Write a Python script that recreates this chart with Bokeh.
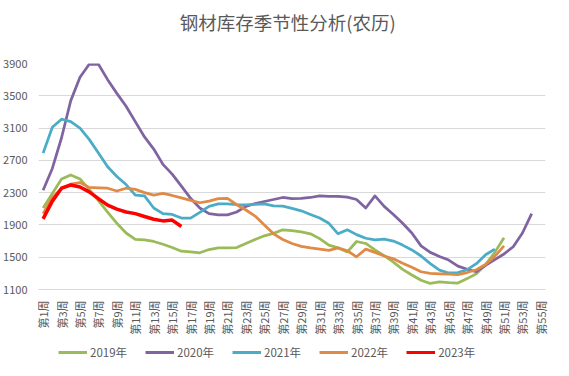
import math
from bokeh.plotting import figure
from bokeh.layouts import column
from bokeh.models import Range1d, FixedTicker, Legend, LegendItem, Label
from bokeh.embed import file_html
from bokeh.resources import INLINE

title_text = "钢材库存季节性分析(农历)"
week_labels = ["第%d周" % i for i in range(1, 56)]
y_ticks = [1100, 1500, 1900, 2300, 2700, 3100, 3500, 3900]

s2019 = [2110, 2290, 2470, 2520, 2470, 2340, 2200, 2060, 1920, 1800,
         1720, 1715, 1695, 1660, 1620, 1575, 1565, 1555, 1595, 1615,
         1615, 1620, 1670, 1720, 1765, 1795, 1840, 1830, 1815, 1790,
         1730, 1650, 1615, 1565, 1695, 1670, 1590, 1520, 1440, 1350,
         1280, 1215, 1175, 1195, 1185, 1180, 1235, 1295, 1410, 1560,
         1740]
s2020 = [2330, 2600, 2980, 3440, 3730, 3890, 3890, 3700, 3530, 3370,
         3180, 2990, 2840, 2650, 2530, 2380, 2230, 2110, 2040, 2025,
         2025, 2060, 2130, 2165, 2190, 2215, 2240, 2225, 2230, 2240,
         2260, 2255, 2255, 2245, 2215, 2110, 2260, 2130, 2030, 1920,
         1800, 1640, 1560, 1510, 1465, 1390, 1350, 1320, 1400, 1470,
         1540, 1630, 1800, 2040]
s2021 = [2790, 3110, 3210, 3180, 3100, 2960, 2790, 2620, 2500, 2400,
         2270, 2260, 2110, 2040, 2030, 1985, 1985, 2055, 2130, 2160,
         2160, 2150, 2150, 2155, 2160, 2135, 2133, 2105, 2075, 2030,
         1985, 1920, 1790, 1840, 1780, 1735, 1715, 1725, 1700, 1650,
         1590, 1515, 1420, 1340, 1305, 1310, 1345, 1420, 1530, 1600]
s2022 = [2040, 2240, 2350, 2405, 2425, 2365, 2360, 2355, 2320, 2355,
         2340, 2300, 2270, 2290, 2265, 2235, 2205, 2175, 2195, 2225,
         2230, 2150, 2085, 2010, 1900, 1790, 1720, 1670, 1635, 1615,
         1600, 1585, 1615, 1580, 1505, 1600, 1560, 1515, 1480, 1425,
         1375, 1320, 1300, 1295, 1290, 1285, 1310, 1345, 1410, 1510,
         1640]
s2023 = [1975, 2195, 2355, 2395, 2370, 2310, 2225, 2145, 2095, 2060,
         2040, 2005, 1970, 1950, 1960, 1880]

series_names = ["2019年", "2020年", "2021年", "2022年", "2023年"]
series_data = [s2019, s2020, s2021, s2022, s2023]
colors = ["#9BBB59", "#8064A2", "#4BACC6", "#E08A45", "#FF0000"]
widths = [2.75, 2.75, 2.75, 2.75, 3.5]

W = 553
FONT = "Noto Sans CJK SC"
GREY = "#595959"

# --- title strip ---
pt = figure(width=W, height=55, output_backend="svg", toolbar_location=None,
            x_range=Range1d(0, W), y_range=Range1d(0, 55),
            x_axis_location=None, y_axis_location=None,
            min_border_left=0, min_border_right=0, min_border_top=0, min_border_bottom=0)
pt.outline_line_color = None
pt.grid.visible = False
pt.add_layout(Label(x=272, y=34, text=title_text, text_align="center",
                    text_baseline="middle", text_font=FONT,
                    text_font_size="18.5px", text_color=GREY))

# --- main chart ---
p = figure(width=W, height=282, output_backend="svg", toolbar_location=None,
           x_range=Range1d(0.5, 55.5), y_range=Range1d(1100, 3900),
           min_border_left=30, min_border_right=8, min_border_top=8,
           min_border_bottom=40)
p.outline_line_color = None

p.xgrid.grid_line_color = None
p.ygrid.grid_line_color = "#D9D9D9"
p.ygrid.grid_line_width = 1

p.yaxis.ticker = FixedTicker(ticks=y_ticks)
p.yaxis.axis_line_color = None
p.yaxis.major_tick_line_color = None
p.yaxis.minor_tick_line_color = None
p.yaxis.major_label_text_font = FONT
p.yaxis.major_label_text_font_size = "11px"
p.yaxis.major_label_text_color = GREY
p.yaxis.major_label_standoff = 5

p.xaxis.ticker = FixedTicker(ticks=list(range(1, 56, 2)))
p.xaxis.major_label_overrides = {i: week_labels[i - 1] for i in range(1, 56, 2)}
p.xaxis.major_label_orientation = math.pi / 2
p.xaxis.axis_line_color = "#D9D9D9"
p.xaxis.major_tick_line_color = None
p.xaxis.minor_tick_line_color = None
p.xaxis.major_label_text_font = FONT
p.xaxis.major_label_text_font_size = "11px"
p.xaxis.major_label_text_color = GREY
p.xaxis.major_label_standoff = 5

for data, c, w in zip(series_data, colors, widths):
    xs = list(range(1, len(data) + 1))
    p.line(xs, data, line_color=c, line_width=w, line_join="round")

# --- legend strip ---
pl = figure(width=W, height=26, output_backend="svg", toolbar_location=None,
            x_range=Range1d(0, 1), y_range=Range1d(0, 1),
            x_axis_location=None, y_axis_location=None,
            min_border_left=0, min_border_right=0, min_border_top=0, min_border_bottom=0)
pl.outline_line_color = None
pl.grid.visible = False
items = []
for name, c in zip(series_names, colors):
    # legend swatch renderers; their single point lies outside the visible range
    r = pl.line(x=[5, 6], y=[5, 6], line_color=c, line_width=3)
    items.append(LegendItem(label=name, renderers=[r]))
legend = Legend(items=items, orientation="horizontal", location=(20, 3),
                glyph_width=29, glyph_height=12, label_standoff=3, spacing=18,
                padding=2, margin=0, border_line_color=None,
                label_text_font=FONT, label_text_font_size="11.5px",
                label_text_color=GREY, background_fill_alpha=0)
pl.add_layout(legend, "center")

layout = column(pt, p, pl, spacing=0)
open("out.html", "w").write(file_html(layout, INLINE))
